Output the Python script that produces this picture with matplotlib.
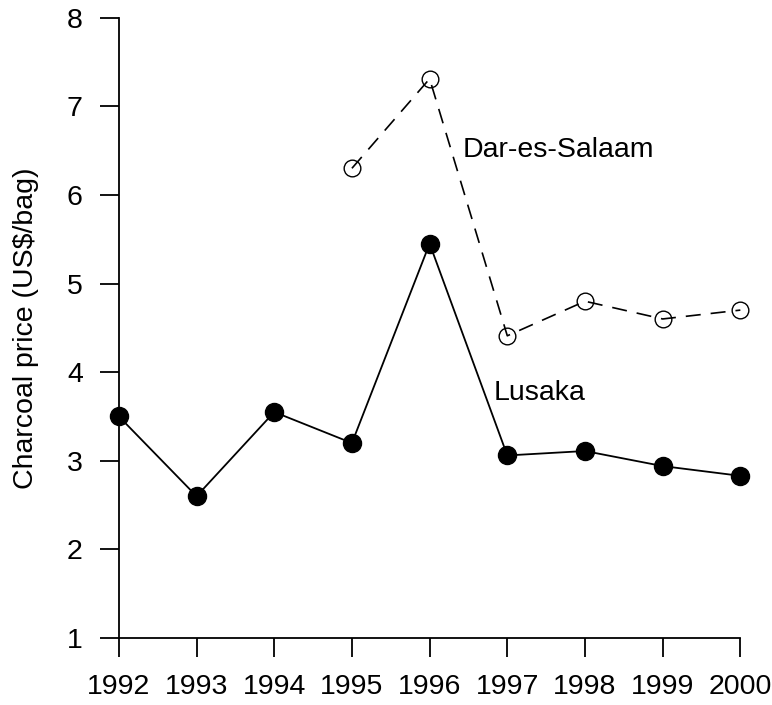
import matplotlib
matplotlib.use("Agg")
import matplotlib.pyplot as plt

plt.rcParams['font.family'] = ['Liberation Sans', 'DejaVu Sans']

# data
years = [1992, 1993, 1994, 1995, 1996, 1997, 1998, 1999, 2000]
lusaka = [3.5, 2.6, 3.55, 3.2, 5.45, 3.06, 3.11, 2.94, 2.83]
dar_years = [1995, 1996, 1997, 1998, 1999, 2000]
dar = [6.3, 7.31, 4.41, 4.8, 4.6, 4.7]

FS = 20.5

fig = plt.figure(figsize=(7.72, 7.05), dpi=100)
ax = fig.add_axes([0.154, 0.095, 0.805, 0.88])

ax.plot(years, lusaka, '-', color='black', lw=1.3,
        marker='o', markersize=13, markerfacecolor='black',
        markeredgecolor='black', clip_on=False)
ax.plot(dar_years, dar, color='black', lw=1.2, linestyle=(0, (9, 6)),
        marker='o', markersize=12, markerfacecolor='none',
        markeredgecolor='black', markeredgewidth=1.0, clip_on=False)

ax.text(1996.42, 6.51, 'Dar-es-Salaam', fontsize=FS, va='center', ha='left')
ax.text(1996.82, 3.77, 'Lusaka', fontsize=FS, va='center', ha='left')

ax.set_xlim(1992, 2000)
ax.set_ylim(1, 8)
ax.set_xticks(years)
ax.set_yticks(range(1, 9))
ax.set_ylabel('Charcoal price (US$/bag)', fontsize=FS, labelpad=20)

for s in ['top', 'right']:
    ax.spines[s].set_visible(False)
for s in ['left', 'bottom']:
    ax.spines[s].set_linewidth(1.3)
ax.tick_params(axis='both', direction='out', length=14, width=1.3,
               labelsize=FS)
ax.tick_params(axis='x', pad=12)
ax.tick_params(axis='y', pad=12)

fig.savefig('out.png', dpi=100)
